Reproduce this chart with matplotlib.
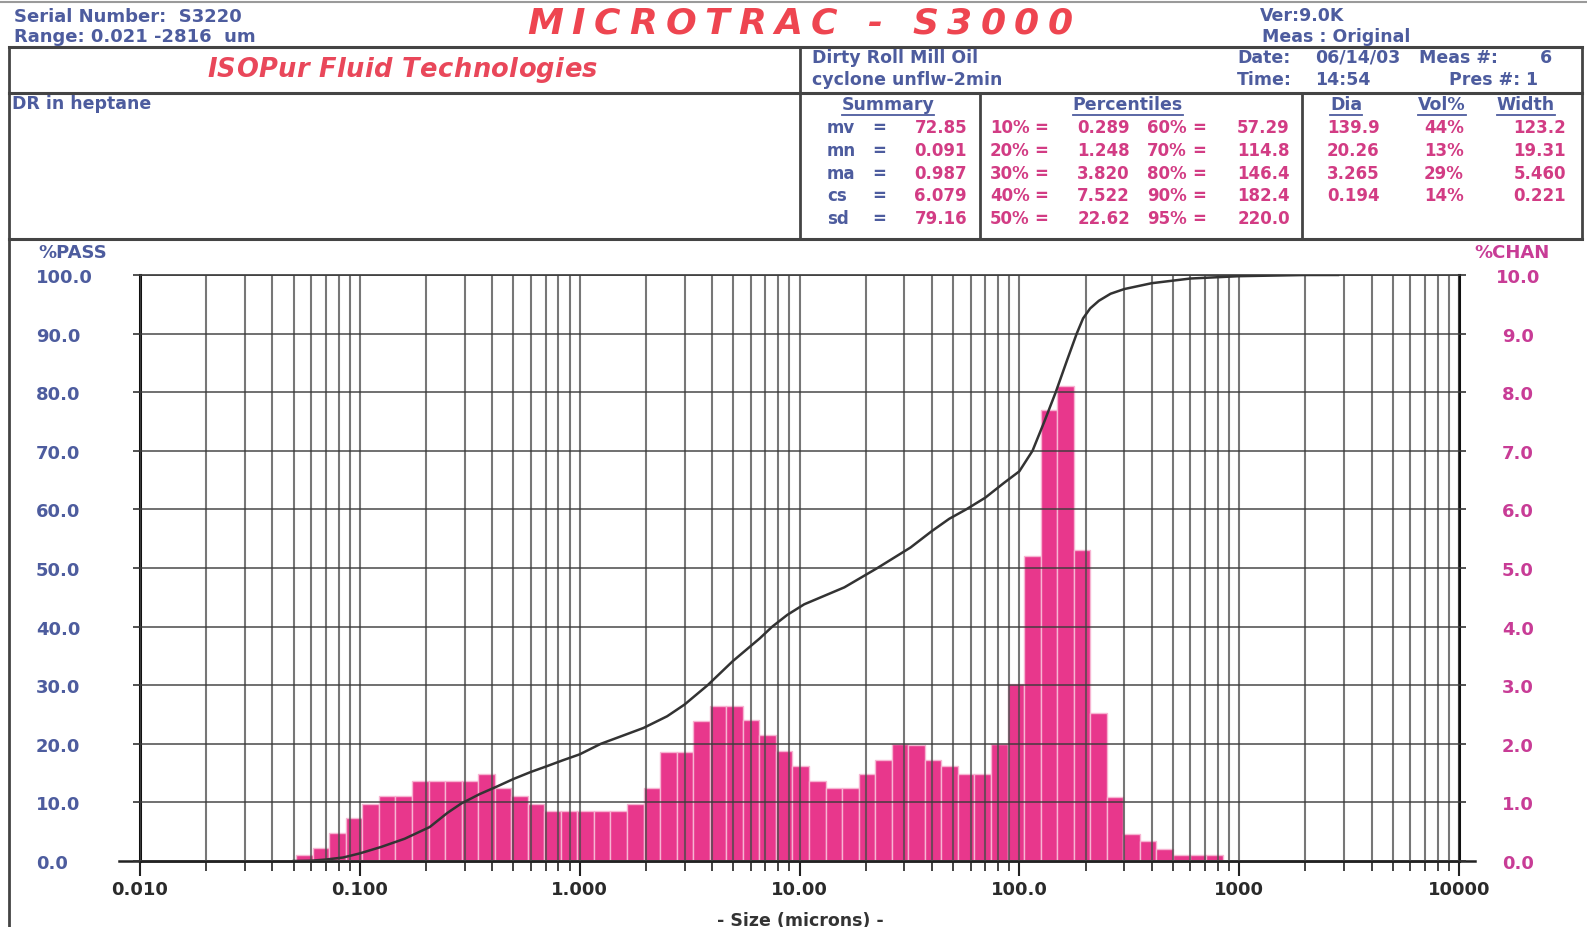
import numpy as np
import matplotlib
matplotlib.use("Agg")
import matplotlib.pyplot as plt
from matplotlib.lines import Line2D
from matplotlib.ticker import FixedLocator, LogLocator, NullFormatter

# ---------------- data ----------------
# channel edges (microns) of the drawn histogram bars
chan_edges = [0.0513, 0.0610, 0.0726, 0.0863, 0.1027, 0.1221, 0.1452, 0.1726,
              0.2053, 0.2441, 0.2903, 0.3453, 0.4106, 0.4883, 0.5807, 0.6905,
              0.8212, 0.9766, 1.161, 1.381, 1.642, 1.953, 2.323, 2.762, 3.285,
              3.906, 4.645, 5.524, 6.570, 7.813, 9.291, 11.05, 13.14, 15.63,
              18.58, 22.10, 26.28, 31.25, 37.16, 44.19, 52.56, 62.50, 74.33,
              88.39, 105.1, 125.0, 148.7, 176.8, 210.2, 250.0, 297.3, 353.6,
              420.4, 500.0, 594.6, 707.1, 840.9]
# %CHAN in each channel
chan_pct = [0.10, 0.22, 0.47, 0.73, 0.98, 1.11, 1.11, 1.36, 1.36, 1.36, 1.36,
            1.49, 1.24, 1.11, 0.98, 0.85, 0.85, 0.85, 0.85, 0.85, 0.98, 1.24,
            1.86, 1.86, 2.39, 2.64, 2.64, 2.41, 2.15, 1.88, 1.62, 1.36, 1.24,
            1.24, 1.49, 1.73, 1.99, 1.98, 1.73, 1.62, 1.49, 1.49, 1.99, 3.02,
            5.20, 7.70, 8.10, 5.30, 2.53, 1.10, 0.46, 0.34, 0.20, 0.10, 0.10,
            0.10]

# cumulative %PASS curve
pass_size = [0.05, 0.06, 0.07, 0.084, 0.1, 0.125, 0.16, 0.208, 0.25, 0.289,
             0.35, 0.42, 0.5, 0.6, 0.7, 0.84, 1.0, 1.248, 1.6, 1.95, 2.5, 3.0,
             3.82, 4.97, 6.6, 7.52, 8.8, 10.5, 12.5, 16.0, 22.62, 32.0, 40.0,
             48.0, 57.29, 70.0, 85.0, 100.0, 114.8, 130.0, 146.4, 165.0, 182.4,
             195.0, 210.0, 230.0, 260.0, 300.0, 400.0, 600.0, 1000.0, 2000.0,
             2816.0]
pass_pct = [0.0, 0.05, 0.25, 0.6, 1.3, 2.4, 3.8, 5.8, 8.2, 9.8,
            11.4, 12.7, 14.0, 15.2, 16.1, 17.2, 18.2, 20.0, 21.5, 22.7, 24.7, 26.7,
            30.0, 34.1, 38.0, 40.0, 42.0, 43.8, 45.0, 46.7, 50.0, 53.5, 56.3,
            58.4, 60.0, 62.0, 64.5, 66.5, 70.0, 75.0, 80.0, 85.5, 90.0,
            92.6, 94.3, 95.6, 96.8, 97.6, 98.6, 99.4, 99.8, 100.0, 100.0]

x_ticks = [0.01, 0.1, 1, 10, 100, 1000, 10000]
x_labels = ["0.010", "0.100", "1.000", "10.00", "100.0", "1000", "10000"]
pass_ticks = [0, 10, 20, 30, 40, 50, 60, 70, 80, 90, 100]
chan_ticks = [0, 1, 2, 3, 4, 5, 6, 7, 8, 9, 10]

summary_names = ["mv", "mn", "ma", "cs", "sd"]
summary_vals = ["72.85", "0.091", "0.987", "6.079", "79.16"]
pct_lo_names = ["10%", "20%", "30%", "40%", "50%"]
pct_lo_vals = ["0.289", "1.248", "3.820", "7.522", "22.62"]
pct_hi_names = ["60%", "70%", "80%", "90%", "95%"]
pct_hi_vals = ["57.29", "114.8", "146.4", "182.4", "220.0"]
peak_dia = ["139.9", "20.26", "3.265", "0.194"]
peak_vol = ["44%", "13%", "29%", "14%"]
peak_width = ["123.2", "19.31", "5.460", "0.221"]

# ---------------- styling ----------------
W, H = 1587, 928
BLUE = "#4d5c9e"
MAG = "#d23c84"
RED = "#ee4550"
BAR = "#e8378c"
LINE = "#444444"
plt.rcParams["font.family"] = ["DejaVu Sans"]

fig = plt.figure(figsize=(W / 100, H / 100), dpi=100)
fig.patch.set_facecolor("white")
rend = fig.canvas.get_renderer()


def fx(x):
    return x / W


def fy(y):
    return 1 - y / H


def hline(y, x0, x1, lw=1.6, color=LINE):
    fig.add_artist(Line2D([fx(x0), fx(x1)], [fy(y), fy(y)], lw=lw, color=color,
                          transform=fig.transFigure))


def vline(x, y0, y1, lw=1.6, color=LINE):
    fig.add_artist(Line2D([fx(x), fx(x)], [fy(y0), fy(y1)], lw=lw, color=color,
                          transform=fig.transFigure))


def txt(x, y, s, ha="left", size=12.5, color=BLUE, **kw):
    return fig.text(fx(x), fy(y), s, ha=ha, va="center", fontsize=size,
                    color=color, fontweight="bold", **kw)


def underline(t, dy=2, color=BLUE):
    bb = t.get_window_extent(rend)
    y = (bb.y0 - dy) / H
    fig.add_artist(Line2D([bb.x0 / W, bb.x1 / W], [y, y], lw=1.3, color=color,
                          transform=fig.transFigure))


def spread_text(x0, x1, y, s, **kw):
    # the scan is stretched sideways, so spread the glyphs over the same width
    ts = [fig.text(0, fy(y), c, ha="left", va="center", **kw) for c in s]
    ws = [max(t.get_window_extent(rend).width, 6) for t in ts]
    gap = ((x1 - x0) - sum(ws)) / (len(s) - 1)
    x = x0
    for t, w in zip(ts, ws):
        t.set_x(fx(x))
        x += w + gap


# ---------------- frame of the report ----------------
hline(3, 0, W, lw=1.5, color="#9a9a9a")
hline(48, 9, 1582, lw=2.2)
hline(94, 9, 1582, lw=2.2)
hline(240, 9, 1582, lw=2.2)
vline(9, 48, H, lw=2)
vline(1582, 48, 240, lw=2)
vline(800, 48, 240, lw=2)
vline(980, 94, 240, lw=2)
vline(1302, 94, 240, lw=2)

# header row
txt(14, 17, "Serial Number:  S3220", size=13)
txt(14, 37, "Range: 0.021 -2816  um", size=13)
spread_text(527, 1073, 24, "MICROTRAC - S3000", fontsize=26, color=RED,
            fontweight="bold", fontstyle="italic")
txt(1260, 16, "Ver:9.0K", size=12.5)
txt(1262, 37, "Meas : Original", size=12.5)

# second row
spread_text(207, 597, 70, "ISOPur Fluid Technologies", fontsize=18.5,
            color="#e9475a", fontweight="bold", fontstyle="italic")
txt(812, 58, "Dirty Roll Mill Oil", size=12.5)
txt(812, 80, "cyclone unflw-2min", size=12.5)
txt(1237, 58, "Date:", size=12.5)
txt(1315, 58, "06/14/03", size=12.5)
txt(1419, 58, "Meas #:", size=12.5)
txt(1540, 58, "6", size=12.5)
txt(1237, 80, "Time:", size=12.5)
txt(1315, 80, "14:54", size=12.5)
txt(1449, 80, "Pres #:", size=12.5)
txt(1525, 80, "1", size=12.5)

# third row
txt(12, 104, "DR in heptane", size=12.5)
underline(txt(888, 105, "Summary", ha="center", size=12.5))
underline(txt(1128, 105, "Percentiles", ha="center", size=12.5))
underline(txt(1346, 105, "Dia", ha="center", size=12.5))
underline(txt(1442, 105, "Vol%", ha="center", size=12.5))
underline(txt(1526, 105, "Width", ha="center", size=12.5))

row_y = [128.5, 151, 174, 196.5, 219]
for i, y in enumerate(row_y):
    txt(827, y, summary_names[i], size=12)
    txt(879, y, "=", ha="center", size=12)
    txt(967, y, summary_vals[i], ha="right", size=12, color=MAG)
    txt(990, y, pct_lo_names[i], size=12, color=MAG)
    txt(1041, y, "=", ha="center", size=12, color=MAG)
    txt(1130, y, pct_lo_vals[i], ha="right", size=12, color=MAG)
    txt(1147, y, pct_hi_names[i], size=12, color=MAG)
    txt(1199, y, "=", ha="center", size=12, color=MAG)
    txt(1290, y, pct_hi_vals[i], ha="right", size=12, color=MAG)
for i, y in enumerate(row_y[:4]):
    txt(1327, y, peak_dia[i], size=12, color=MAG)
    txt(1444, y, peak_vol[i], ha="center", size=12, color=MAG)
    txt(1566, y, peak_width[i], ha="right", size=12, color=MAG)

# ---------------- chart ----------------
ax_chan = fig.add_axes([fx(140), fy(862), (1459 - 140) / W, (862 - 276) / H])
ax_chan.set_xscale("log")
ax_chan.set_xlim(0.01, 10000)
ax_chan.set_ylim(0, 10)
ax_chan.bar(chan_edges[:-1], chan_pct, width=np.diff(chan_edges), align="edge",
            color=BAR, edgecolor="#f7b4d2", linewidth=1.0, zorder=1)
ax_chan.set_axisbelow(False)

ax_chan.xaxis.set_major_locator(FixedLocator(x_ticks))
ax_chan.set_xticklabels(x_labels)
ax_chan.xaxis.set_minor_locator(LogLocator(base=10, subs=np.arange(2, 10)))
ax_chan.xaxis.set_minor_formatter(NullFormatter())
ax_chan.grid(True, which="both", axis="x", color="#4a4a4a", lw=1.5, alpha=0.75)
ax_chan.grid(True, which="major", axis="y", color="#3a3a3a", lw=1.2, alpha=0.85)
ax_chan.tick_params(axis="x", which="major", direction="out", length=11,
                    width=1.5, pad=3, labelsize=13, color="#222222",
                    labelcolor="#2a2a2a")
ax_chan.tick_params(axis="x", which="minor", direction="out", length=7,
                    width=1.2, color="#222222")
for lab in ax_chan.get_xticklabels():
    lab.set_fontweight("bold")
for side in ["left", "right"]:
    ax_chan.spines[side].set_linewidth(2.2)
    ax_chan.spines[side].set_color("#111111")
ax_chan.spines["top"].set_linewidth(1.2)
ax_chan.spines["top"].set_color("#3a3a3a")
ax_chan.spines["bottom"].set_linewidth(1.8)
ax_chan.spines["bottom"].set_color("#222222")
ax_chan.axhline(0, xmin=-0.016, xmax=1.012, color="#222222", lw=1.8,
                clip_on=False)

ax_pass = ax_chan.twinx()
ax_pass.set_ylim(0, 100)
ax_pass.plot(pass_size, pass_pct, color="#333333", lw=1.8)
for s in ax_pass.spines.values():
    s.set_visible(False)

# %CHAN on the right (twinx resets sides, so set them afterwards)
ax_chan.yaxis.tick_right()
ax_chan.set_yticks(chan_ticks)
ax_chan.set_yticklabels(["%.1f" % v for v in chan_ticks])
ax_chan.tick_params(axis="y", direction="out", length=5, width=1.2, pad=37.5,
                    labelsize=13, labelcolor="#c83c96", color="#333333")
for lab in ax_chan.get_yticklabels():
    lab.set_horizontalalignment("center")
    lab.set_fontweight("bold")

# %PASS on the left
ax_pass.yaxis.tick_left()
ax_pass.set_yticks(pass_ticks)
ax_pass.set_yticklabels(["%.1f" % v for v in pass_ticks])
ax_pass.tick_params(axis="y", direction="out", length=5, width=1.2, pad=69.9,
                    labelsize=13, labelcolor=BLUE, color="#333333")
for lab in ax_pass.get_yticklabels():
    lab.set_horizontalalignment("left")
    lab.set_fontweight("bold")

txt(38, 253, "%PASS", size=13)
txt(1550, 253, "%CHAN", ha="right", size=13, color="#c83c96")
txt(800, 921, "- Size (microns) -", ha="center", size=12.5, color="#333333")

fig.savefig("out.png", dpi=100, facecolor="white")
